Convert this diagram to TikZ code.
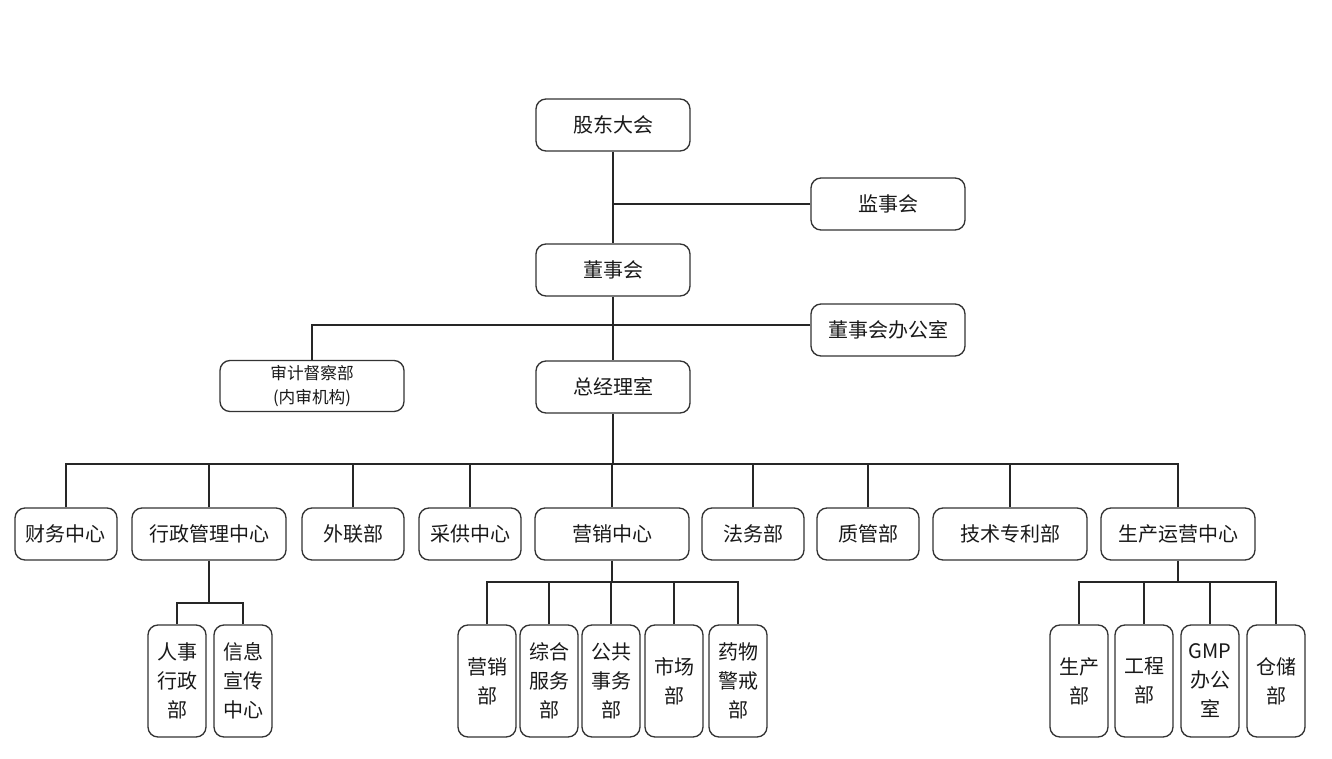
\documentclass[tikz,border=0pt]{standalone}
\usepackage{fontspec}
\setmainfont{Noto Sans CJK SC}
\usetikzlibrary{calc}
\begin{document}
\begin{tikzpicture}[x=0.75pt,y=-0.75pt,
  box/.style={draw=black!80, line width=1pt, rounded corners=7.5pt, fill=white,
    minimum width=115.5pt, minimum height=39pt, inner sep=0pt,
    font=\fontsize{15}{18}\selectfont, text=black!90},
  sbox/.style={box, minimum width=76.5pt},
  vbox/.style={box, minimum width=43.5pt, minimum height=84pt, align=center,
    font=\fontsize{15}{21.75}\selectfont},
  ln/.style={draw=black!85, line width=1pt}]
\useasboundingbox (0,0) rectangle (1332,758);
% top levels
\node[box] (gd) at (613,125) {股东大会};
\node[box] (js) at (888,204) {监事会};
\node[box] (ds) at (613,270) {董事会};
\node[box] (db) at (888,330) {董事会办公室};
\node[box, minimum width=138pt, minimum height=38.25pt, align=center,
  font=\fontsize{12.5}{18}\selectfont] (sj) at (312,386) {审计督察部\\(内审机构)};
\node[box] (zj) at (613,387) {总经理室};
% row 2
\node[sbox] (cw) at (66,534) {财务中心};
\node[box] (xz) at (209,534) {行政管理中心};
\node[sbox] (wl) at (353,534) {外联部};
\node[sbox] (cg) at (470,534) {采供中心};
\node[box] (yx) at (612,534) {营销中心};
\node[sbox] (fw) at (753,534) {法务部};
\node[sbox] (zg) at (868,534) {质管部};
\node[box] (jszl) at (1010,534) {技术专利部};
\node[box] (sc) at (1178,534) {生产运营中心};
% row 3
\node[vbox] (rs) at (177,681) {人事\\行政\\部};
\node[vbox] (xx) at (243,681) {信息\\宣传\\中心};
\node[vbox] (yxb) at (487,681) {营销\\部};
\node[vbox] (zh) at (549,681) {综合\\服务\\部};
\node[vbox] (gg) at (611,681) {公共\\事务\\部};
\node[vbox] (sch) at (674,681) {市场\\部};
\node[vbox] (yw) at (738,681) {药物\\警戒\\部};
\node[vbox] (scb) at (1079,681) {生产\\部};
\node[vbox] (gc) at (1144,681) {工程\\部};
\node[vbox] (gmp) at (1210,681) {GMP\\办公\\室};
\node[vbox] (cc) at (1276,681) {仓储\\部};
% connectors
\draw[ln] (gd.south) -- (ds.north);
\draw[ln] (js.west) -- (js.west -| gd.south);
\draw[ln] (ds.south) -- (zj.north);
\coordinate (dbj) at ($(db.west)+(0,-5)$);
\draw[ln] (dbj) -| (sj.north);
\coordinate (bus) at (613,464);
\draw[ln] (zj.south) -- (bus);
\foreach \n in {cw,xz,wl,cg,yx,fw,zg,jszl,sc} \draw[ln] (\n.north) |- (bus);
\coordinate (xb) at (209,603);
\draw[ln] (xz.south) -- (xb);
\foreach \n in {rs,xx} \draw[ln] (\n.north) |- (xb);
\coordinate (yb) at (612,582);
\draw[ln] (yx.south) -- (yb);
\foreach \n in {yxb,zh,gg,sch,yw} \draw[ln] (\n.north) |- (yb);
\coordinate (sb) at (1178,582);
\draw[ln] (sc.south) -- (sb);
\foreach \n in {scb,gc,gmp,cc} \draw[ln] (\n.north) |- (sb);
\end{tikzpicture}
\end{document}
